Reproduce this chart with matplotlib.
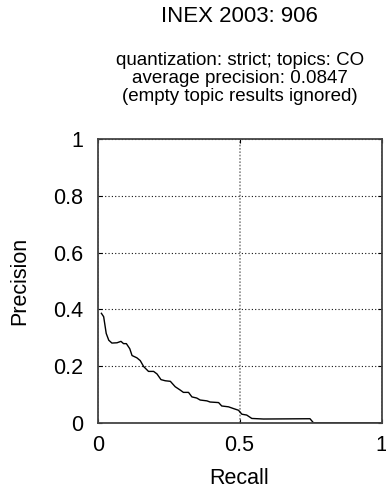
import matplotlib as mpl
mpl.use('Agg')
import matplotlib.pyplot as plt

plt.rcParams['font.family'] = ['Liberation Sans', 'DejaVu Sans']

# precision / recall curve
recall = [0.013, 0.021, 0.030, 0.039, 0.050, 0.068, 0.082, 0.091, 0.101, 0.113,
          0.121, 0.138, 0.150, 0.162, 0.179, 0.197, 0.209, 0.223, 0.238, 0.256,
          0.273, 0.291, 0.302, 0.320, 0.332, 0.349, 0.361, 0.385, 0.396, 0.426,
          0.437, 0.461, 0.478, 0.496, 0.508, 0.525, 0.543, 0.584, 0.748, 0.760, 1.0]
precision = [0.386, 0.374, 0.315, 0.291, 0.281, 0.282, 0.287, 0.279, 0.279, 0.261,
             0.237, 0.229, 0.219, 0.198, 0.181, 0.181, 0.172, 0.152, 0.148, 0.146,
             0.127, 0.115, 0.107, 0.107, 0.091, 0.087, 0.080, 0.077, 0.073, 0.071,
             0.059, 0.056, 0.050, 0.044, 0.030, 0.027, 0.015, 0.013, 0.014, 0.0, 0.0]

xticks = [0, 0.5, 1]
xlabels = ["0", "0.5", "1"]
yticks = [0, 0.2, 0.4, 0.6, 0.8, 1]
ylabels = ["0", "0.2", "0.4", "0.6", "0.8", "1"]

title = "INEX 2003: 906"
subtitle = ["quantization: strict; topics: CO",
            "average precision: 0.0847",
            "(empty topic results ignored)"]

W, H = 386, 494
fig = plt.figure(figsize=(W / 100, H / 100), dpi=100)
left, right, top, bottom = 97.7, 381.5, 139.3, 422.7
ax = fig.add_axes([left / W, 1 - bottom / H, (right - left) / W, (bottom - top) / H])

ax.plot(recall, precision, color='black', lw=1.0)

ax.set_xlim(0, 1)
ax.set_ylim(0, 1)
ax.set_xticks(xticks)
ax.set_xticklabels(xlabels)
ax.set_yticks(yticks)
ax.set_yticklabels(ylabels)
ax.tick_params(direction='in', length=3, width=0.8, labelsize=15.5,
               top=True, right=True)
ax.tick_params(axis='y', pad=10.4)
ax.tick_params(axis='x', pad=9)
ax.yaxis.grid(True, color='#111111', linestyle=(0, (1, 2)), lw=0.8)
ax.xaxis.grid(True, color='#8a8a8a', linestyle=(0, (1, 1)), lw=1.2)
for s in ax.spines.values():
    s.set_linewidth(1.3)
    s.set_color('#444444')

ax.set_xlabel("Recall", fontsize=15.5, va='center')
ax.xaxis.set_label_coords(0.5, (bottom - 478) / (bottom - top))
ax.set_ylabel("Precision", fontsize=15.5, va='center')
ax.yaxis.set_label_coords((20 - left) / (right - left), 0.5)

cx = (left + right) / 2 / W
fig.text(cx, 1 - 22 / H, title, ha='center', va='baseline', fontsize=16)
for line, base in zip(subtitle, [65, 83, 101]):
    fig.text(cx, 1 - base / H, line, ha='center', va='baseline', fontsize=13.5)

plt.savefig("out.png", dpi=100)
